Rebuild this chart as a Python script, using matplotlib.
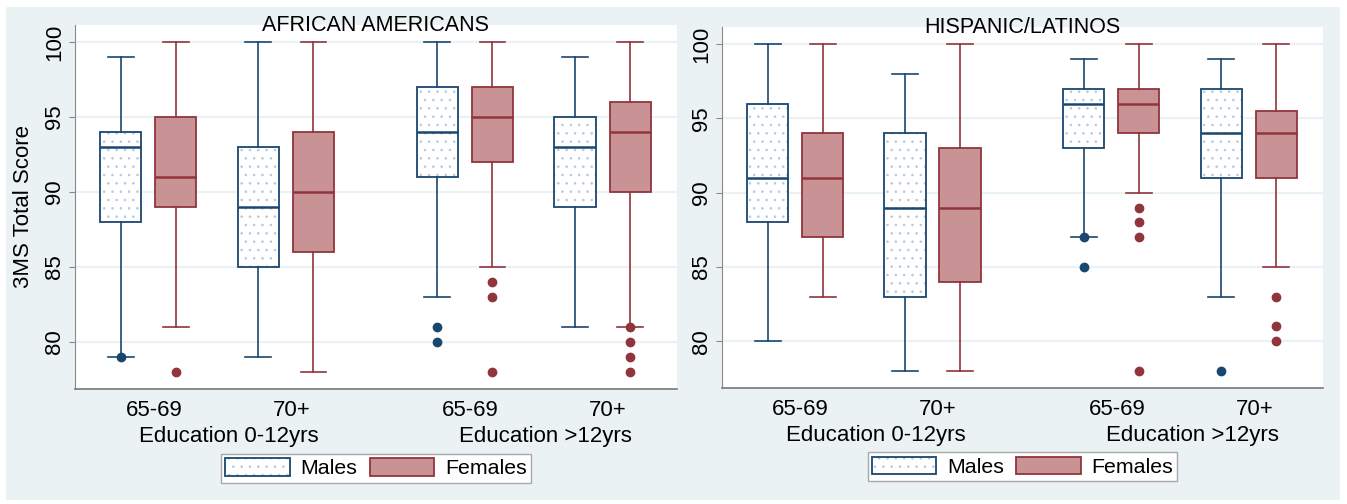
import numpy as np
import matplotlib.pyplot as plt
from matplotlib.patches import Rectangle, PathPatch, Patch
from matplotlib.legend_handler import HandlerTuple

plt.rcParams['font.family'] = ['Liberation Sans', 'DejaVu Sans']
plt.rcParams['hatch.linewidth'] = 0.6

#-------------------------------------------------------------------------------
# data: [lower whisker, q1, median, q3, upper whisker]
panels = ['AFRICAN AMERICANS', 'HISPANIC/LATINOS']
age_labels = ['65-69', '70+', '65-69', '70+']
edu_labels = ['Education 0-12yrs', 'Education >12yrs']

aa_males = [[79, 88, 93, 94, 99], [79, 85, 89, 93, 100],
            [83, 91, 94, 97, 100], [81, 89, 93, 95, 99]]
aa_females = [[81, 89, 91, 95, 100], [78, 86, 90, 94, 100],
              [85, 92, 95, 97, 100], [81, 90, 94, 96, 100]]
aa_males_out = [[79], [], [81, 80], []]
aa_females_out = [[78], [], [84, 83, 78], [81, 80, 79, 78]]

hl_males = [[80, 88, 91, 96, 100], [78, 83, 89, 94, 98],
            [87, 93, 96, 97, 99], [83, 91, 94, 97, 99]]
hl_females = [[83, 87, 91, 94, 100], [78, 84, 89, 93, 100],
              [90, 94, 96, 97, 100], [85, 91, 94, 95.5, 100]]
hl_males_out = [[], [], [87, 85], [78]]
hl_females_out = [[], [], [89, 88, 87, 78], [83, 81, 80]]

#-------------------------------------------------------------------------------
navy = '#1a476f'
maroon = '#90353b'
pink = '#c99295'
dots = '#b4c8de'
bg = '#eaf2f3'
fs = 16

pair_pos = np.array([0, 2.5, 5.75, 8.25])
off = 0.5

def stats(vals, outs):
    res = []
    for v, o in zip(vals, outs):
        res.append({'whislo': v[0], 'q1': v[1], 'med': v[2], 'q3': v[3],
                    'whishi': v[4], 'fliers': np.array(o)})
    return res

W, H = 1347, 504
fig = plt.figure(figsize=(W / 100, H / 100), dpi=100)
fig.patches.append(Rectangle((6 / W, 1 - 500 / H), 1334 / W, 493 / H,
                             transform=fig.transFigure, fc=bg, ec='none', zorder=-5))

ax_l = fig.add_axes([75 / W, 1 - 389 / H, 602 / W, 364 / H])
ax_r = fig.add_axes([722 / W, 1 - 388 / H, 601 / W, 361 / H])

data = [(aa_males, aa_males_out, aa_females, aa_females_out),
        (hl_males, hl_males_out, hl_females, hl_females_out)]

for ax, title, (m, mo, f, fo) in zip([ax_l, ax_r], panels, data):
    ax.set_facecolor('white')
    ax.set_xlim(-1.33, 9.6)
    ax.set_ylim(76.85, 101.15)
    for y in [80, 85, 90, 95, 100]:
        ax.axhline(y, color=bg, lw=1.6, zorder=0)

    # males
    bm = ax.bxp(stats(m, mo), positions=pair_pos - off, widths=0.75, capwidths=0.47,
                patch_artist=True,
                boxprops=dict(facecolor='white', edgecolor=dots, linewidth=0, hatch='..'),
                medianprops=dict(color=navy, linewidth=1.8),
                whiskerprops=dict(color=navy, linewidth=1.2),
                capprops=dict(color=navy, linewidth=1.2),
                flierprops=dict(marker='o', markerfacecolor=navy, markeredgecolor=navy,
                                markersize=6, linestyle='none'))
    for b in bm['boxes']:
        ax.add_patch(PathPatch(b.get_path(), fc='none', ec=navy, lw=1.3, zorder=2.1))

    # females
    ax.bxp(stats(f, fo), positions=pair_pos + off, widths=0.75, capwidths=0.47,
           patch_artist=True,
           boxprops=dict(facecolor=pink, edgecolor=maroon, linewidth=1.3),
           medianprops=dict(color=maroon, linewidth=1.8),
           whiskerprops=dict(color=maroon, linewidth=1.2),
           capprops=dict(color=maroon, linewidth=1.2),
           flierprops=dict(marker='o', markerfacecolor=maroon, markeredgecolor=maroon,
                           markersize=6, linestyle='none'))

    ax.set_xticks(pair_pos + 0.1)
    ax.set_xticklabels(age_labels, fontsize=fs)
    ax.tick_params(axis='x', length=0, pad=8)
    ax.set_yticks([80, 85, 90, 95, 100])
    ax.set_yticklabels(['80', '85', '90', '95', '100'], fontsize=fs,
                       rotation=90, va='center')
    ax.tick_params(axis='y', length=4.5, color='#888888', pad=2.5)
    for s in ['top', 'right']:
        ax.spines[s].set_visible(False)
    ax.spines['left'].set_color('#888888')
    ax.spines['bottom'].set_color('#777777')
    ax.spines['bottom'].set_linewidth(1.2)

    for i, lab in enumerate(edu_labels):
        xc = (pair_pos[2 * i] + pair_pos[2 * i + 1]) / 2 + 0.22
        ax.annotate(lab, xy=(xc, 0), xycoords=('data', 'axes fraction'),
                    xytext=(0, -34.5), textcoords='offset points',
                    ha='center', va='center', fontsize=fs)

    ax.text(0.5, 1 - 6 / 364, title, transform=ax.transAxes, ha='center',
            va='baseline', fontsize=15.5)

    m_fill = Patch(facecolor='white', edgecolor=dots, linewidth=0, hatch='..')
    m_edge = Patch(facecolor='none', edgecolor=navy, linewidth=1.3)
    f_patch = Patch(facecolor=pink, edgecolor=maroon, linewidth=1.3)
    ax.legend([(m_fill, m_edge), f_patch], ['Males', 'Females'],
              handler_map={tuple: HandlerTuple(ndivide=1)},
              loc='center', bbox_to_anchor=(0.5, -0.218), fontsize=15.4,
              ncol=2, frameon=True, fancybox=False, framealpha=1,
              edgecolor='#a8a8a8', handlelength=3.0, handleheight=0.9,
              handletextpad=0.5, columnspacing=0.6, borderpad=0.2,
              borderaxespad=0)

ax_l.set_ylabel('3MS Total Score', fontsize=fs, va='center')
ax_l.yaxis.set_label_coords(-0.085, 0.5)

fig.savefig('out.png', dpi=100)
